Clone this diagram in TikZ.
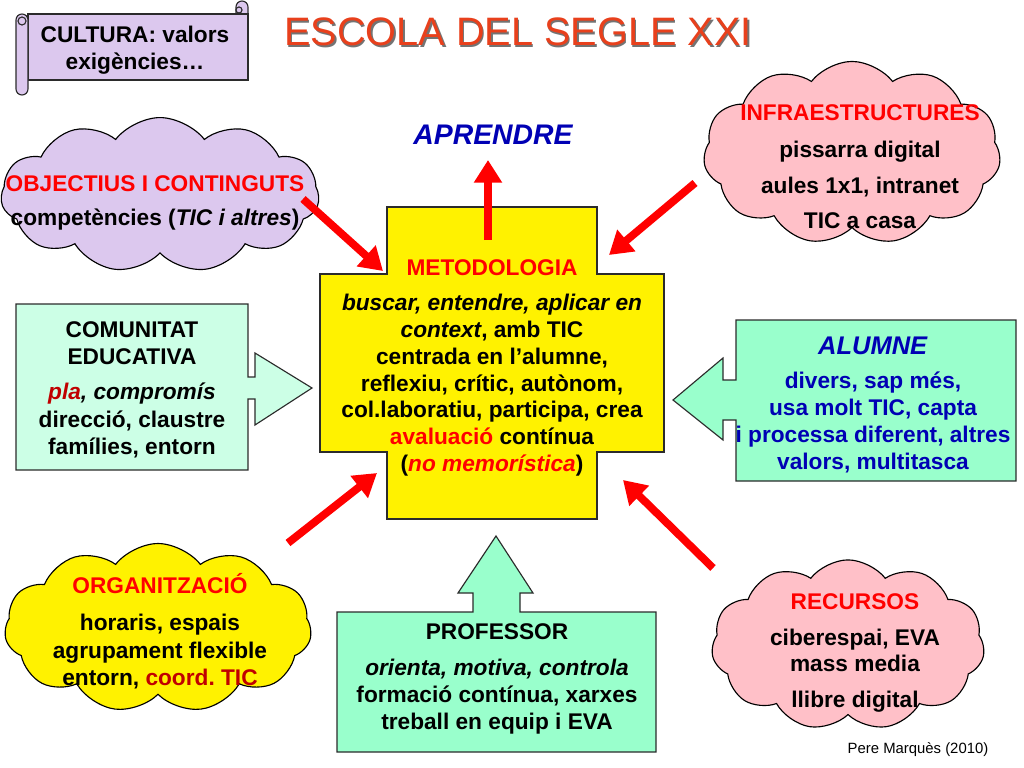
\documentclass[tikz,border=0pt]{standalone}
\usepackage{fontspec}
\setmainfont{Liberation Sans}
\usetikzlibrary{shapes.symbols, arrows.meta}
\definecolor{lilac}{HTML}{DCC8EE}
\definecolor{rosy}{HTML}{FFC0C8}
\definecolor{mint}{HTML}{99FFCC}
\definecolor{palemint}{HTML}{CCFFE6}
\definecolor{titlered}{HTML}{E8401C}
\definecolor{darkred}{HTML}{C00000}
\definecolor{textblue}{HTML}{0000B4}
\definecolor{edge}{HTML}{2B2B2B}
\frenchspacing

\tikzset{
  cloudbox/.style={cloud, cloud puffs=11, cloud puff arc=105, cloud ignores aspect, draw=black, line width=0.8pt},
  shapebox/.style={draw=edge, line width=0.8pt},
  txt/.style={align=center, font={\fontsize{16}{19}\selectfont\bfseries}},
  redarrow/.style={draw=red, line width=5.5pt, -{Triangle[length=16pt,width=19pt]}},
}

\begin{document}
\begin{tikzpicture}[x=0.0248cm, y=-0.0248cm]
\useasboundingbox (0,0) rectangle (1024,768);

% Title
\node (titleshadow) [text=black!55] at (519.5,33.5) {\fontsize{28}{32}\selectfont ESCOLA DEL SEGLE XXI};
\node (title) [text=titlered] at (518,32) {\fontsize{28}{32}\selectfont ESCOLA DEL SEGLE XXI};

% Scroll
\filldraw[shapebox, fill=lilac] (236,14) -- (236,7) arc (180:360:6) -- (248,14) -- cycle;
\filldraw[shapebox, fill=lilac] (28,14) rectangle (248,80);
\draw[shapebox, fill=lilac] (239,10) circle (3);
\filldraw[shapebox, fill=lilac] (16,20) -- (16,89) arc (180:0:6) -- (28,20) arc (0:-180:6) -- cycle;
\draw[shapebox] (22,21) circle (4);
\node (cultura) [txt] at (135,50) {CULTURA: valors\\exigències…};

% Clouds
\node (objcloud) [cloudbox, fill=lilac, minimum width=7.89cm, minimum height=3.84cm] at (160,195) {};
\node (objtext) [txt] at (155,203) {\textcolor{red}{OBJECTIUS I CONTINGUTS}\\[5pt]
  competències (\textit{TIC i altres})};

\node (infracloud) [cloudbox, fill=rosy, minimum width=7.37cm, minimum height=4.54cm] at (852,153) {};
\node (infratext) [txt] at (860,167) {\textcolor{red}{INFRAESTRUCTURES}\\[7pt]
  pissarra digital\\[6pt] aules 1x1, intranet\\[6pt] TIC a casa};

\node (orgcloud) [cloudbox, fill=yellow, minimum width=7.61cm, minimum height=4.19cm] at (158,628) {};
\node (orgtext) [txt] at (160,631) {\textcolor{red}{ORGANITZACIÓ}\\[7pt]
  horaris, espais\\[0.7pt] agrupament flexible\\ entorn, \textcolor{darkred}{coord. TIC}};

\node (reccloud) [cloudbox, fill=rosy, minimum width=6.77cm, minimum height=4.22cm] at (848,645) {};
\node (rectext) [txt] at (855,653) {\textcolor{red}{RECURSOS}\\[6pt]
  ciberespai, EVA\\ mass media\\[6pt] llibre digital};

% Metodologia cross
\filldraw[shapebox, fill=yellow] (387,207) -- (597,207) -- (597,274) -- (664,274) -- (664,452)
  -- (597,452) -- (597,519) -- (387,519) -- (387,452) -- (320,452) -- (320,274) -- (387,274) -- cycle;
\node (metod) [txt] at (492,368) {\textcolor{red}{METODOLOGIA}\\[5.6pt]
  \textit{buscar, entendre, aplicar en}\\ \textit{context}, amb TIC\\ centrada en l’alumne,\\
  reflexiu, crític, autònom,\\ col.laboratiu, participa, crea\\
  \textcolor{red}{avaluació} contínua\\ (\textcolor{red}{\textit{no memorística}})};

% Comunitat educativa
\filldraw[shapebox, fill=palemint] (16,304) -- (248,304) -- (248,377) -- (255,377) -- (255,353) -- (312,388)
  -- (255,425) -- (255,399) -- (248,399) -- (248,470) -- (16,470) -- cycle;
\node (comunitat) [txt] at (132,390) {COMUNITAT\\ EDUCATIVA\\[5.6pt]
  \textit{\textcolor{darkred}{pla}, compromís}\\[0.7pt] direcció, claustre\\ famílies, entorn};

% Alumne
\filldraw[shapebox, fill=mint] (736,320) -- (1016,320) -- (1016,481) -- (736,481) -- (736,420) -- (723,420)
  -- (723,440) -- (673,400) -- (723,358) -- (723,380) -- (736,380) -- cycle;
\node (alumne) [txt, text=textblue] at (873,405) {{\fontsize{18}{21}\selectfont\textit{ALUMNE}}\\[5pt]
  divers, sap més,\\ usa molt TIC, capta\\ i processa diferent, altres\\ valors, multitasca};

% Professor
\filldraw[shapebox, fill=mint] (337,612) -- (473,612) -- (473,593) -- (458,593) -- (496,536) -- (533,593)
  -- (520,593) -- (520,612) -- (656,612) -- (656,752) -- (337,752) -- cycle;
\node (professor) [txt] at (497,679) {PROFESSOR\\[6.3pt]
  \textit{orienta, motiva, controla}\\ formació contínua, xarxes\\ treball en equip i EVA};

% Aprendre
\node (aprendre) [text=textblue] at (493,135) {\fontsize{20}{24}\selectfont\bfseries\itshape APRENDRE};

% Red arrows
\coordinate (objout) at (303,199);  \coordinate (objin) at (383,271);
\coordinate (infraout) at (695,183); \coordinate (infrain) at (609,255);
\coordinate (orgout) at (288,543);  \coordinate (orgin) at (377,473);
\coordinate (recout) at (713,568);  \coordinate (recin) at (623,480);
\coordinate (metodout) at (488,240); \coordinate (aprendrein) at (488,160);
\draw[redarrow] (objout) -- (objin);
\draw[redarrow] (infraout) -- (infrain);
\draw[redarrow] (orgout) -- (orgin);
\draw[redarrow] (recout) -- (recin);
\draw[redarrow] (metodout) -- (aprendrein);

\node (credit) at (918,750) {\fontsize{10.5}{12}\selectfont Pere Marquès (2010)};
\end{tikzpicture}
\end{document}
